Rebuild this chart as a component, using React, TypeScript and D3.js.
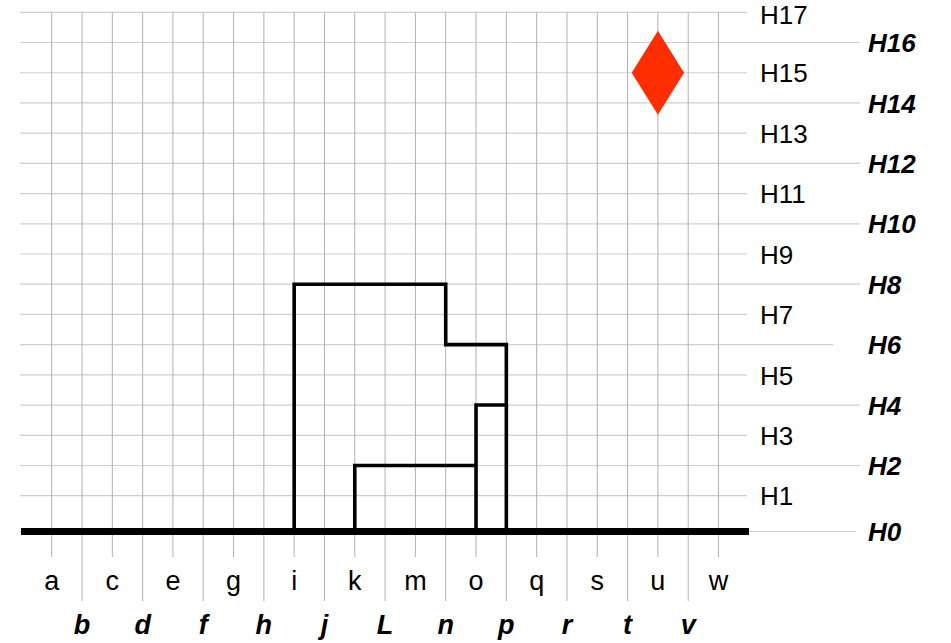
import * as React from 'react';
import * as d3 from 'd3';

// columns along the bottom (one per vertical grid line)
const columns = ['a', 'b', 'c', 'd', 'e', 'f', 'g', 'h', 'i', 'j', 'k', 'L', 'm', 'n', 'o', 'p', 'q', 'r', 's', 't', 'u', 'v', 'w'];

// height levels on the right
const levels = [0, 1, 2, 3, 4, 5, 6, 7, 8, 9, 10, 11, 12, 13, 14, 15, 16, 17];
const levelLabels = ['H0', 'H1', 'H2', 'H3', 'H4', 'H5', 'H6', 'H7', 'H8', 'H9', 'H10', 'H11', 'H12', 'H13', 'H14', 'H15', 'H16', 'H17'];

// step outlines as [column, level]
const outerStep: [string, number][] = [['i', 0], ['i', 8], ['n', 8], ['n', 6], ['p', 6], ['p', 0]];
const innerLeftStep: [string, number][] = [['k', 0], ['k', 2], ['o', 2]];
const innerRightStep: [string, number][] = [['o', 0], ['o', 4], ['p', 4]];

// red marker
const markerColumn = 'u';
const markerLevel = 15;

const FONT = '"Liberation Sans", Arial, Helvetica, sans-serif';

export default function App() {
  const ref = React.useRef<SVGSVGElement>(null);

  React.useEffect(() => {
    const svg = d3.select(ref.current);
    svg.selectAll('*').remove();

    const x = d3.scalePoint<string>().domain(columns).range([51.7, 718.5]);
    // the base row sits a little lower than the even grid spacing
    const y = d3.scaleLinear().domain([0, 1, 17]).range([531.5, 495.7, 12.3]);

    const grid = svg.append('g');

    // horizontal grid lines
    grid
      .selectAll('line.h')
      .data(levels)
      .enter()
      .append('line')
      .attr('class', 'h')
      .attr('x1', 20)
      .attr('x2', d => (d % 2 === 1 ? 747 : d === 6 ? 833 : d === 0 ? 856 : 860))
      .attr('y1', d => y(d))
      .attr('y2', d => y(d))
      .attr('stroke', '#cfcfcf')
      .attr('stroke-width', 1.2);

    // vertical grid lines, running down as ticks
    grid
      .selectAll('line.v')
      .data(columns)
      .enter()
      .append('line')
      .attr('class', 'v')
      .attr('x1', d => x(d)!)
      .attr('x2', d => x(d)!)
      .attr('y1', y(17))
      .attr('y2', (d, i) => (i % 2 === 0 ? 557 : 601))
      .attr('stroke', '#b0b0b0')
      .attr('stroke-width', 1);

    // thick base line
    svg
      .append('line')
      .attr('x1', 21)
      .attr('x2', 749)
      .attr('y1', y(0))
      .attr('y2', y(0))
      .attr('stroke', '#000')
      .attr('stroke-width', 7);

    const line = d3
      .line<[string, number]>()
      .x(d => x(d[0])!)
      .y(d => y(d[1]));

    svg
      .selectAll('path.step')
      .data([outerStep, innerLeftStep, innerRightStep])
      .enter()
      .append('path')
      .attr('class', 'step')
      .attr('d', d => line(d))
      .attr('fill', 'none')
      .attr('stroke', '#000')
      .attr('stroke-width', 3.6)
      .attr('stroke-linejoin', 'miter');

    // diamond marker
    const mx = x(markerColumn)!;
    const my = y(markerLevel);
    svg
      .append('path')
      .attr('d', d3.symbol().type(d3.symbolDiamond).size(2040)()!)
      .attr('transform', `translate(${mx},${my}) scale(1.08,1)`)
      .attr('fill', '#ff2e00');

    // column labels, two staggered rows
    svg
      .selectAll('text.col')
      .data(columns)
      .enter()
      .append('text')
      .attr('class', 'col')
      .attr('x', d => x(d)!)
      .attr('y', (d, i) => (i % 2 === 0 ? 590 : 634))
      .attr('text-anchor', 'middle')
      .attr('font-family', FONT)
      .attr('font-size', 27)
      .attr('font-weight', (d, i) => (i % 2 === 0 ? 'normal' : 'bold'))
      .attr('font-style', (d, i) => (i % 2 === 0 ? 'normal' : 'italic'))
      .attr('fill', '#000')
      .text(d => d);

    // level labels, odd left, even right
    svg
      .selectAll('text.lvl')
      .data(levels)
      .enter()
      .append('text')
      .attr('class', 'lvl')
      .attr('x', d => (d % 2 === 1 ? 760 : 868))
      .attr('y', d => Math.max(y(d) + 9.7, 24))
      .attr('font-family', FONT)
      .attr('font-size', 26)
      .attr('font-weight', d => (d % 2 === 1 ? 'normal' : 'bold'))
      .attr('font-style', d => (d % 2 === 1 ? 'normal' : 'italic'))
      .attr('fill', '#000')
      .text(d => levelLabels[d]);
  }, []);

  return (
    <svg
      ref={ref}
      width={951}
      height={643}
      style={{ position: 'absolute', left: 0, top: 0, background: '#fff' }}
    />
  );
}
